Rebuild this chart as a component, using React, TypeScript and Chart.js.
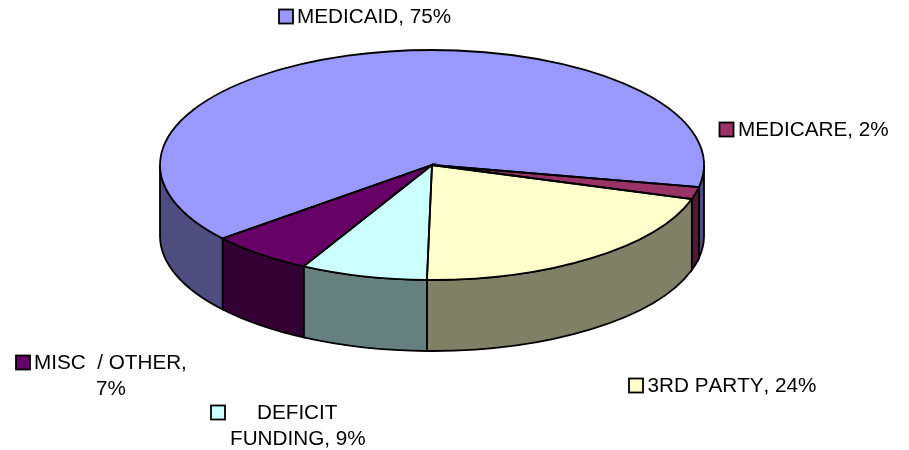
import React, { useEffect, useRef } from "react";
import { Chart, registerables } from "chart.js";

Chart.register(...registerables);

const categories = ["MEDICAID", "MEDICARE", "3RD PARTY", "DEFICIT FUNDING", "MISC / OTHER"];
const values = [75, 2, 24, 8.8, 7.2];
const topColors = ["#9999FF", "#993366", "#FFFFCC", "#CCFFFF", "#660066"];
const wallColors = ["#4D4D80", "#4D1A33", "#808066", "#668080", "#330033"];

const CX = 432, CY = 165, RX = 272, RY = 115, DEPTH = 71;
const FONT = "20.7px 'Liberation Sans', Arial, sans-serif";
const labelBoxes = [
  { index: 0, key: [279, 9.5], lines: [["MEDICAID, 75%", 297, 23]] },
  { index: 1, key: [719.5, 122.5], lines: [["MEDICARE, 2%", 738, 136]] },
  { index: 2, key: [629, 378.5], lines: [["3RD PARTY, 24%", 647.5, 392]] },
  { index: 3, key: [211, 405.5], lines: [["DEFICIT", 257, 419], ["FUNDING, 9%", 230, 445]] },
  { index: 4, key: [16, 355.5], lines: [["MISC  / OTHER,", 34, 369], ["7%", 96, 395]] },
];

const pie3d = {
  id: "pie3d",
  beforeDatasetsDraw(chart: any) {
    const ctx = chart.ctx;
    const arcs = chart.getDatasetMeta(0).data;
    const TAU = Math.PI * 2;
    ctx.save();
    ctx.lineWidth = 1.8;
    ctx.strokeStyle = "#000";
    arcs.forEach((arc: any, i: number) => {
      for (let k = -2; k <= 2; k++) {
        const a = Math.max(arc.startAngle, k * TAU);
        const b = Math.min(arc.endAngle, k * TAU + Math.PI);
        if (b <= a) continue;
        ctx.beginPath();
        ctx.ellipse(CX, CY, RX, RY, 0, a, b);
        ctx.lineTo(CX + RX * Math.cos(b), CY + DEPTH + RY * Math.sin(b));
        ctx.ellipse(CX, CY + DEPTH, RX, RY, 0, b, a, true);
        ctx.closePath();
        ctx.fillStyle = wallColors[i];
        ctx.fill();
        ctx.stroke();
      }
    });
    ctx.restore();
    const first = arcs[0];
    ctx.save();
    ctx.translate(CX, CY);
    ctx.scale(RX / first.outerRadius, RY / first.outerRadius);
    ctx.translate(-first.x, -first.y);
  },
  afterDatasetsDraw(chart: any) {
    const ctx = chart.ctx;
    ctx.restore();
    const arcs = chart.getDatasetMeta(0).data;
    ctx.save();
    ctx.lineWidth = 1.8;
    ctx.strokeStyle = "#000";
    arcs.forEach((arc: any) => {
      ctx.beginPath();
      ctx.moveTo(CX, CY);
      ctx.ellipse(CX, CY, RX, RY, 0, arc.startAngle, arc.endAngle);
      ctx.closePath();
      ctx.stroke();
    });
    ctx.font = FONT;
    ctx.fontKerning = "none";
    ctx.textBaseline = "alphabetic";
    labelBoxes.forEach((box: any) => {
      ctx.fillStyle = topColors[box.index];
      ctx.fillRect(box.key[0], box.key[1], 14, 14);
      ctx.strokeStyle = "#000";
      ctx.lineWidth = 1.8;
      ctx.strokeRect(box.key[0], box.key[1], 14, 14);
      ctx.fillStyle = "#000";
      box.lines.forEach((l: any) => ctx.fillText(l[0], l[1], l[2]));
    });
    ctx.restore();
  },
};

export default function App() {
  const ref = useRef<HTMLCanvasElement>(null);
  useEffect(() => {
    document.body.style.margin = "0";
    const chart = new Chart(ref.current as HTMLCanvasElement, {
      type: "pie",
      data: {
        labels: categories,
        datasets: [
          {
            data: values,
            backgroundColor: topColors,
            borderWidth: 0,
            clip: false,
          } as any,
        ],
      },
      options: {
        responsive: false,
        animation: false,
        rotation: 230.3,
        plugins: { legend: { display: false }, tooltip: { enabled: false } },
      },
      plugins: [pie3d],
    } as any);
    return () => chart.destroy();
  }, []);
  return (
    <canvas
      ref={ref}
      width={909}
      height={450}
      style={{ display: "block", background: "#fff" }}
    />
  );
}
